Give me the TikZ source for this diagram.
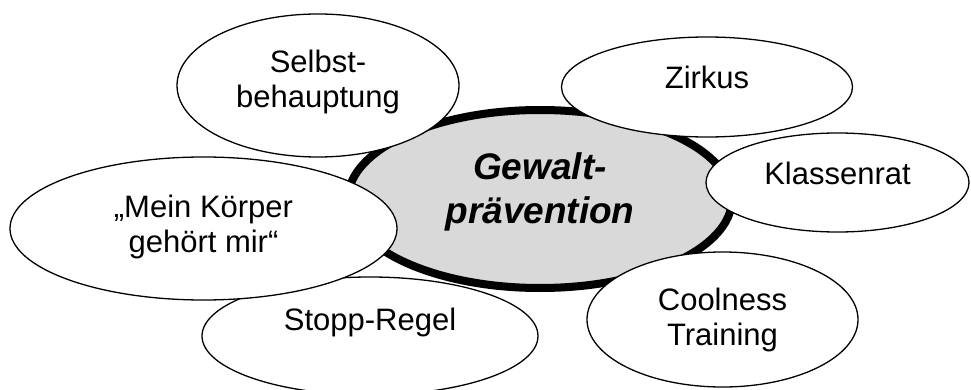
\documentclass[tikz,border=0pt]{standalone}
\usepackage{fontspec}
\setmainfont{Liberation Sans}
\usepackage{xcolor}
\usepackage{tikz}
\usetikzlibrary{shapes.geometric, positioning}
\definecolor{hubgray}{RGB}{217, 217, 217}
\tikzstyle{hub} = [
    ellipse,
    inner sep=0pt,
    draw=black,
    line width=8pt,
    fill=hubgray
]
\tikzstyle{hubtext} = [
    align=center,
    font=\fontsize{37}{44}\selectfont\bfseries\itshape
]
\tikzstyle{bubble} = [
    ellipse,
    inner sep=0pt,
    draw=black,
    line width=1.3pt,
    fill=white
]
\tikzstyle{bubbletext} = [
    align=center,
    font=\fontsize{31}{35}\selectfont
]

\begin{document}
\begin{tikzpicture}[x=1pt, y=-1pt]
        \useasboundingbox (0,0) rectangle (971,390);
        % centre
        \node[hub, minimum width=384pt, minimum height=178pt,
              label={[hubtext, yshift=7pt]center:{Gewalt-\\prävention}}] (gewalt) at (540,199) {};
        % topics around it
        \node[bubble, minimum width=336pt, minimum height=118pt,
              label={[bubbletext, yshift=14pt]center:Stopp-Regel}] (stopp) at (370,336) {};
        \node[bubble, minimum width=387pt, minimum height=143pt,
              label={[bubbletext, yshift=2pt]center:{„Mein Körper\\gehört mir“}}] (koerper) at (203.5,228.5) {};
        \node[bubble, minimum width=282pt, minimum height=143pt,
              label={[bubbletext, yshift=4pt]center:{Selbst-\\behauptung}}] (selbst) at (318,85.5) {};
        \node[bubble, minimum width=291pt, minimum height=100pt,
              label={[bubbletext, yshift=10pt]center:Zirkus}] (zirkus) at (707,87) {};
        \node[bubble, minimum width=263pt, minimum height=99pt,
              label={[bubbletext, yshift=9pt]center:Klassenrat}] (rat) at (837.5,182.5) {};
        \node[bubble, minimum width=271pt, minimum height=135pt,
              label={[bubbletext]center:{Coolness\\Training}}] (cool) at (722.5,319.5) {};
    \end{tikzpicture}
\end{document}
